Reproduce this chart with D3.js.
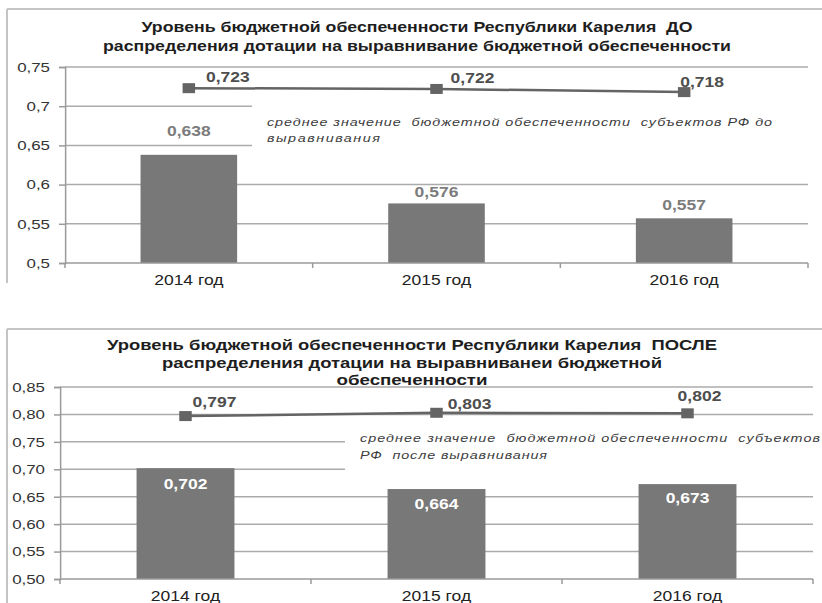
<!DOCTYPE html>
<html>
<head>
<meta charset="utf-8">
<script src="https://cdn.jsdelivr.net/npm/d3@7"></script>
<style>
  body { margin: 0; background: #fff; }
  svg { display: block; }
  line, path { vector-effect: non-scaling-stroke; }
  text { font-family: "Liberation Sans", Arial, sans-serif; white-space: pre; }
</style>
</head>
<body>
<svg id="chart"></svg>
<script>
// data
var years = ["2014 год", "2015 год", "2016 год"];

var beforeBars = [0.638, 0.576, 0.557];
var beforeAvg = [0.723, 0.722, 0.718];
var beforeTicks = [0.5, 0.55, 0.6, 0.65, 0.7, 0.75];
var beforeTickLabels = ["0,5", "0,55", "0,6", "0,65", "0,7", "0,75"];
var beforeTitle = ["Уровень бюджетной обеспеченности Республики Карелия  ДО",
                   "распределения дотации на выравнивание бюджетной обеспеченности"];
var beforeNote = ["среднее значение  бюджетной обеспеченности  субъектов РФ до",
                  "выравнивания"];

var afterBars = [0.702, 0.664, 0.673];
var afterAvg = [0.797, 0.803, 0.802];
var afterTicks = [0.5, 0.55, 0.6, 0.65, 0.7, 0.75, 0.8, 0.85];
var afterTickLabels = ["0,50", "0,55", "0,60", "0,65", "0,70", "0,75", "0,80", "0,85"];
var afterTitle = ["Уровень бюджетной обеспеченности Республики Карелия  ПОСЛЕ",
                  "распределения дотации на выравниванеи бюджетной",
                  "обеспеченности"];
var afterNote = ["среднее значение  бюджетной обеспеченности  субъектов",
                 "РФ  после выравнивания"];

var fmt = function(v){ return v.toFixed(3).replace(".", ","); };

// the picture is stretched sideways, so draw in a narrower box and let the viewBox widen it
var SX = 1.25;
var W = 822, H = 603;
var fx = function(v){ return v / SX; };

var svg = d3.select("#chart")
  .attr("width", W).attr("height", H)
  .attr("viewBox", "0 0 " + (W / SX) + " " + H)
  .attr("preserveAspectRatio", "none");

var BAR = "#787878", LINE = "#646464", GRID = "#ababab", AXIS = "#9a9a9a", FRAME = "#c4c4c4";

function drawPanel(cfg) {
  var g = svg.append("g");

  // frame (top and left edges only are visible)
  g.append("line").attr("x1", fx(cfg.frame.x)).attr("x2", W / SX)
    .attr("y1", cfg.frame.y).attr("y2", cfg.frame.y)
    .attr("stroke", FRAME).attr("stroke-width", 2);
  g.append("line").attr("x1", fx(cfg.frame.x)).attr("x2", fx(cfg.frame.x))
    .attr("y1", cfg.frame.y).attr("y2", cfg.frame.bottom)
    .attr("stroke", FRAME).attr("stroke-width", 2);

  // title
  cfg.title.forEach(function(t, i){
    g.append("text")
      .attr("x", fx(cfg.titleCx)).attr("y", cfg.titleY[i])
      .attr("text-anchor", "middle")
      .attr("font-size", 14).attr("font-weight", "bold").attr("fill", "#1e1e1e")
      .attr("textLength", fx(cfg.titleW[i])).attr("lengthAdjust", "spacingAndGlyphs")
      .text(t);
  });

  var x = d3.scaleBand().domain(years)
    .range([fx(cfg.plot.x0), fx(cfg.plot.x1)])
    .paddingInner(0.61).paddingOuter(0.305);
  var y = d3.scaleLinear().domain(cfg.yDomain).range([cfg.plot.yBot, cfg.plot.yTop]);
  var cx = function(d){ return x(d) + x.bandwidth() / 2; };

  // gridlines
  g.append("g").selectAll("line")
    .data(cfg.ticks.slice(1))
    .enter().append("line")
      .attr("x1", x.range()[0]).attr("x2", x.range()[1])
      .attr("y1", function(d){ return y(d); }).attr("y2", function(d){ return y(d); })
      .attr("stroke", GRID).attr("stroke-width", 1.5);

  // white box behind the note hides the gridlines there
  g.append("rect")
    .attr("x", fx(cfg.note.boxX)).attr("y", cfg.note.boxY0)
    .attr("width", x.range()[1] - fx(cfg.note.boxX) + 1)
    .attr("height", cfg.note.boxY1 - cfg.note.boxY0)
    .attr("fill", "#fff");
  cfg.noteText.forEach(function(t, i){
    g.append("text")
      .attr("x", fx(cfg.note.x)).attr("y", cfg.note.y[i])
      .attr("font-size", 11.5).attr("font-style", "italic").attr("fill", "#3c3c3c")
      .attr("textLength", fx(cfg.note.w[i])).attr("lengthAdjust", "spacing")
      .text(t);
  });

  // bars
  g.append("g").selectAll("rect")
    .data(cfg.bars)
    .enter().append("rect")
      .attr("x", function(d, i){ return x(years[i]); })
      .attr("width", x.bandwidth())
      .attr("y", function(d){ return y(d); })
      .attr("height", function(d){ return y(cfg.yDomain[0]) - y(d); })
      .attr("fill", BAR);

  // bar labels
  g.append("g").selectAll("text")
    .data(cfg.bars)
    .enter().append("text")
      .attr("x", function(d, i){ return cx(years[i]); })
      .attr("y", function(d, i){ return y(d) + cfg.barLabelDy[i]; })
      .attr("text-anchor", "middle")
      .attr("font-size", 14).attr("font-weight", "bold")
      .attr("fill", cfg.barLabelColor)
      .text(fmt);

  // average line
  var line = d3.line()
    .x(function(d, i){ return cx(years[i]); })
    .y(function(d){ return y(d); });
  g.append("path").datum(cfg.avg)
    .attr("d", line).attr("fill", "none")
    .attr("stroke", LINE).attr("stroke-width", 2.5);
  g.append("g").selectAll("rect")
    .data(cfg.avg)
    .enter().append("rect")
      .attr("x", function(d, i){ return cx(years[i]) - 5; })
      .attr("y", function(d){ return y(d) - 5; })
      .attr("width", 10).attr("height", 10)
      .attr("fill", LINE);
  g.append("g").selectAll("text")
    .data(cfg.avg)
    .enter().append("text")
      .attr("x", function(d, i){ return cx(years[i]) + fx(cfg.avgLabelDx[i]); })
      .attr("y", function(d, i){ return y(d) + cfg.avgLabelDy[i]; })
      .attr("text-anchor", "middle")
      .attr("font-size", 14).attr("font-weight", "bold").attr("fill", "#4e4e4e")
      .text(fmt);

  // y axis
  var yAxis = d3.axisLeft(y)
    .tickValues(cfg.ticks)
    .tickFormat(function(d, i){ return cfg.tickLabels[i]; })
    .tickSize(fx(6)).tickPadding(fx(9));
  var ya = g.append("g")
    .attr("transform", "translate(" + x.range()[0] + ",0)")
    .call(yAxis);
  ya.select(".domain").attr("stroke", AXIS).attr("stroke-width", 1.5);
  ya.selectAll(".tick line").attr("stroke", AXIS).attr("stroke-width", 1.5);
  ya.selectAll(".tick text")
    .attr("font-family", "Liberation Sans, Arial, sans-serif")
    .attr("font-size", 13.5).attr("fill", "#333");

  // x axis: ticks at category borders
  var xa = g.append("g")
    .attr("transform", "translate(0," + y(cfg.yDomain[0]) + ")");
  xa.append("line")
    .attr("x1", x.range()[0]).attr("x2", x.range()[1])
    .attr("stroke", AXIS).attr("stroke-width", 1.5);
  xa.selectAll(".border")
    .data(d3.range(years.length + 1))
    .enter().append("line")
      .attr("class", "border")
      .attr("x1", function(i){ return x.range()[0] + i * x.step(); })
      .attr("x2", function(i){ return x.range()[0] + i * x.step(); })
      .attr("y1", 0).attr("y2", 5)
      .attr("stroke", AXIS).attr("stroke-width", 1.5);
  xa.selectAll("text")
    .data(years)
    .enter().append("text")
      .attr("x", cx)
      .attr("y", cfg.catY - y(cfg.yDomain[0]))
      .attr("text-anchor", "middle")
      .attr("font-size", 14).attr("fill", "#222")
      .text(function(d){ return d; });
}

drawPanel({
  frame: { x: 7, y: 9, bottom: 283 },
  title: beforeTitle, titleCx: 417, titleY: [32, 51], titleW: [551, 628],
  plot: { x0: 65, x1: 808, yTop: 67, yBot: 263 },
  yDomain: [0.5, 0.75], ticks: beforeTicks, tickLabels: beforeTickLabels,
  bars: beforeBars, avg: beforeAvg,
  barLabelColor: "#7c7c7c", barLabelDy: [-19, -6, -8],
  avgLabelDx: [39, 36, 18], avgLabelDy: [-6, -6, -5],
  noteText: beforeNote,
  note: { x: 267, y: [126, 142], w: [505, 113], boxX: 252, boxY0: 100, boxY1: 150 },
  catY: 285
});

drawPanel({
  frame: { x: 7, y: 329, bottom: 603 },
  title: afterTitle, titleCx: 412, titleY: [350, 368, 385], titleW: [610, 500, 151],
  plot: { x0: 60, x1: 813, yTop: 387, yBot: 579 },
  yDomain: [0.5, 0.85], ticks: afterTicks, tickLabels: afterTickLabels,
  bars: afterBars, avg: afterAvg,
  barLabelColor: "#fff", barLabelDy: [21, 20, 19],
  avgLabelDx: [29, 33, 12], avgLabelDy: [-9, -4, -12],
  noteText: afterNote,
  note: { x: 360, y: [442, 459], w: [460, 187], boxX: 345, boxY0: 436, boxY1: 475 },
  catY: 601
});
</script>
</body>
</html>
